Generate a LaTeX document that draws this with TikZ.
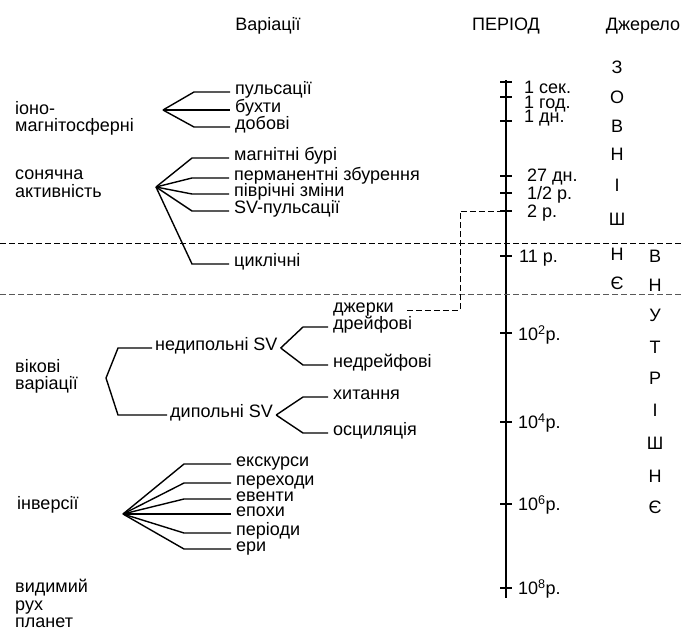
\documentclass[tikz,border=0pt]{standalone}
\usepackage{fontspec}
\setmainfont{Liberation Sans}
\usetikzlibrary{calc}

\begin{document}
\begin{tikzpicture}[x=1pt, y=-1pt, every node/.style={font=\fontsize{18}{17.5}\selectfont},
        leaf/.style={anchor=west, inner xsep=5pt, inner ysep=0pt, text height=0.72em, text depth=0.2em},
        grp/.style={anchor=base west, align=left, inner sep=0pt},
        tickl/.style={anchor=base west, inner sep=0pt},
        letter/.style={anchor=base, inner sep=0pt},
        branch/.style={line width=1.4pt},
        guide/.style={dashed, dash pattern=on 6pt off 3pt, line width=1pt}]
      \useasboundingbox (0,0) rectangle (684,640);
      \node[anchor=base] (hvar) at (268,30) {Варіації};
      \node[anchor=base] (hper) at (506,30) {ПЕРІОД};
      \node[anchor=base] (hsrc) at (643,30) {Джерело};
      % period axis
      \coordinate (atop) at (506,80);
      \coordinate (abot) at (506,598);
      \draw[line width=1.8pt] (atop) -- (abot);
      \foreach \ty/\ly/\lx/\txt [count=\i] in {82/87/524/1 сек., 97/102/524/1 год., 121/116/524/1 дн.,
          176/175/527/27 дн., 193/193/527/{1/2 р.}, 211/211/527/2 р., 256/256/519/11 р.,
          333/334/518/10\textsuperscript{2}р., 422/422/518/10\textsuperscript{4}р.,
          504/504/518/10\textsuperscript{6}р., 588/588/518/10\textsuperscript{8}р.} {
        \coordinate (tk\i) at (506,\ty);
        \draw[line width=1.2pt] ([xshift=-6pt]tk\i) -- ([xshift=6pt]tk\i);
        \node[tickl] (per\i) at (\lx,\ly+6.5) {\txt};
      }
      % source letters
      \foreach \c/\y [count=\i] in {З/67, О/97, В/126, Н/154, І/185, Ш/219, Н/254, Є/283}
        \node[letter] (ext\i) at (617,\y+6.5) {\c};
      \foreach \c/\y [count=\i] in {В/256, Н/285, У/315, Т/347, Р/378, І/410, Ш/443, Н/476, Є/507}
        \node[letter] (int\i) at (655,\y+6.5) {\c};
      \draw[guide] (0,243) -- (684,243);
      \draw[guide, black!65] (0,294) -- (684,294);
      % iono-magnetospheric
      \node[grp] (iono) at (15,131.5) {іоно-\\магнітосферні};
      \coordinate (pi) at (163,110);
      \foreach \n/\y/\t in {puls/92/пульсації, buht/110/бухти, dob/127/добові} {
        \node[leaf] (\n) at (230,\y) {\t};
        \draw[branch] (pi) -- ([xshift=-36pt]\n.west) -- (\n.west);
      }
      % solar activity
      \node[grp] (sol) at (15,197) {сонячна\\активність};
      \coordinate (ps) at (156,187);
      \foreach \n/\y/\t in {mag/158/магнітні бурі, perm/178/перманентні збурення, pivr/194/піврічні зміни,
          svp/211/SV-пульсації, cykl/264/циклічні} {
        \node[leaf] (\n) at (229,\y) {\t};
        \draw[branch] (ps) -- ([xshift=-37pt]\n.west) -- (\n.west);
      }
      % secular variations
      \node[grp] (vik) at (15,389.5) {вікові\\варіації};
      \coordinate (pv) at (106,378);
      \node[leaf, inner xsep=3pt] (nedip) at (152,348) {недипольні SV};
      \node[leaf, inner xsep=3pt] (dip) at (167,415) {дипольні SV};
      \draw[branch] (pv) -- ([xshift=-34pt]nedip.west) -- (nedip.west);
      \draw[branch] (pv) -- ([xshift=-49pt]dip.west) -- (dip.west);
      \node[leaf] (dzh) at (328,310) {джерки};
      \node[leaf] (drf) at (328,327) {дрейфові};
      \node[leaf] (ndrf) at (328,365) {недрейфові};
      \node[leaf] (hyt) at (328,397) {хитання};
      \node[leaf] (osc) at (328,433) {осциляція};
      \draw[branch] (nedip.east) -- ([xshift=-25pt]drf.west) -- (drf.west);
      \draw[branch] (nedip.east) -- ([xshift=-25pt]ndrf.west) -- (ndrf.west);
      \draw[branch] (dip.east) -- ([xshift=-25pt]hyt.west) -- (hyt.west);
      \draw[branch] (dip.east) -- ([xshift=-25pt]osc.west) -- (osc.west);
      \draw[guide] ([xshift=8pt]dzh.east) -| ([xshift=-46pt]tk6) -- (tk6);
      % inversions
      \node[grp] (inv) at (17,509.5) {інверсії};
      \coordinate (pn) at (123,514);
      \foreach \n/\y/\t in {eksk/464/екскурси, pereh/483/переходи, event/499/евенти, epoh/514/епохи,
          perio/533/періоди, ery/549/ери} {
        \node[leaf] (\n) at (231,\y) {\t};
        \draw[branch] (pn) -- ([xshift=-47pt]\n.west) -- (\n.west);
      }
      \node[grp] (vyd) at (15,627.5) {видимий\\рух\\планет};
    \end{tikzpicture}
\end{document}
